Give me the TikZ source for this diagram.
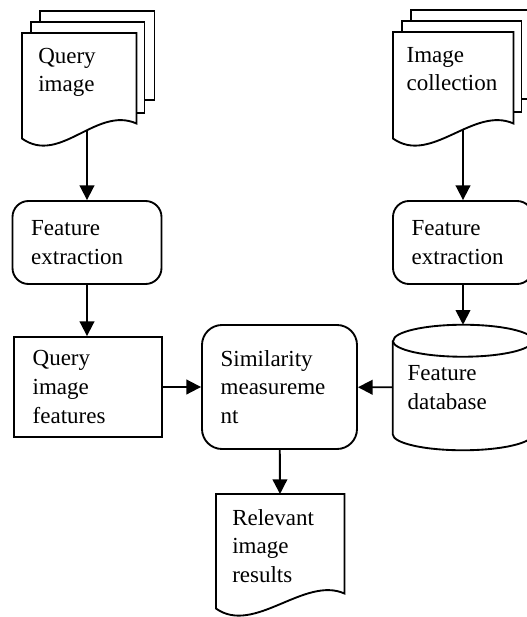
\documentclass[tikz,border=0pt]{standalone}
\usepackage{fontspec}
\setmainfont{Liberation Serif}
\usetikzlibrary{arrows.meta,calc,backgrounds}

\tikzset{
  arr/.style={-{Triangle[length=11pt,width=11pt]}, line width=1.4pt},
  procbox/.style={draw, line width=1.4pt, rounded corners=12pt, align=left, inner xsep=14pt},
  databox/.style={draw, line width=1.4pt, align=left, inner xsep=14pt},
  docnode/.style={align=left, inner xsep=12pt, inner ysep=0pt, anchor=north west},
  sheet/.style={draw, fill=white, line width=1.4pt},
}

% document outline with wavy bottom, around a named node
\newcommand\docoutline[1]{%
  \draw[sheet] (#1.north west) -- (#1.north east) -- ($(#1.south east)+(0,-15)$)
    .. controls ($(#1.south east)+(-40,-33)$) and ($(#1.south west)+(38,27)$) .. (#1.south west) -- cycle;}

\begin{document}
\begin{tikzpicture}[x=0.75pt, y=-0.75pt, every node/.style={font=\fontsize{17.25pt}{21.4pt}\selectfont}]
  \useasboundingbox (0,0) rectangle (526,617);

  % === Left column ===
  \node[docnode, text width=61.5pt, text height=22.5pt, text depth=56.25pt] (qimg) at (22,33) {Query\\image};
  \node[procbox, text width=83.75pt, minimum height=62.25pt] (fe1) at (87,242.5) {Feature\\extraction};
  \node[databox, text width=83pt, minimum height=75pt] (qf) at (88,387) {Query\\image\\features};

  % === Right column ===
  \node[docnode, inner xsep=10pt, text width=70pt, text height=22.5pt, text depth=57pt] (cimg) at (393,32) {Image\\collection};
  \node[procbox, text width=77pt, minimum height=62.25pt] (fe2) at (463,242.5) {Feature\\extraction};
  \node[align=left, inner xsep=11pt, text width=83pt, minimum height=93.75pt] (fdb) at (463,387.5) {Feature\\database};

  % cylinder round the database node
  \draw[line width=1.4pt] ($(fdb.north west)+(0,16)$) -- ($(fdb.south west)+(0,-16)$)
    arc[start angle=180, end angle=360, x radius=52.5pt, y radius=12pt]
    -- ($(fdb.north east)+(0,16)$)
    arc[start angle=0, end angle=180, x radius=52.5pt, y radius=12pt];
  \draw[line width=1.4pt] ($(fdb.north west)+(0,16)$)
    arc[start angle=180, end angle=360, x radius=52.5pt, y radius=12pt];

  % === Middle ===
  \node[procbox, rounded corners=15pt, text width=88.25pt, minimum height=93pt] (sim) at (279.5,387) {Similarity\\measureme\\nt};
  \node[docnode, text width=72pt, text height=23.25pt, text depth=62.25pt] (rel) at (216,494) {Relevant\\image\\results};

  % arrows
  \draw[arr] (fe1) -- (fe1 |- qf.north);
  \draw[arr] (qf) -- (sim);
  \draw[arr] (fe2) -- (fdb);
  \draw[arr] (fdb) -- (sim);
  \draw[arr] (sim) -- (rel);

  % documents (behind the texts)
  \begin{scope}[on background layer]
    \draw[arr] (qimg.center -| fe1) -- (fe1);
    \draw[arr] (cimg.center -| fe2) -- (fe2);

    \draw[sheet] ($(qimg.north west)+(18,-22)$) rectangle ($(qimg.north east)+(18,67)$);
    \draw[sheet] ($(qimg.north west)+(9,-11)$) rectangle ($(qimg.north east)+(8,80)$);
    \docoutline{qimg}

    \draw[sheet] ($(cimg.north west)+(18,-22)$) rectangle ($(cimg.north east)+(18,67)$);
    \draw[sheet] ($(cimg.north west)+(9,-11)$) rectangle ($(cimg.north east)+(8,80)$);
    \docoutline{cimg}

    \docoutline{rel}
  \end{scope}
\end{tikzpicture}
\end{document}
